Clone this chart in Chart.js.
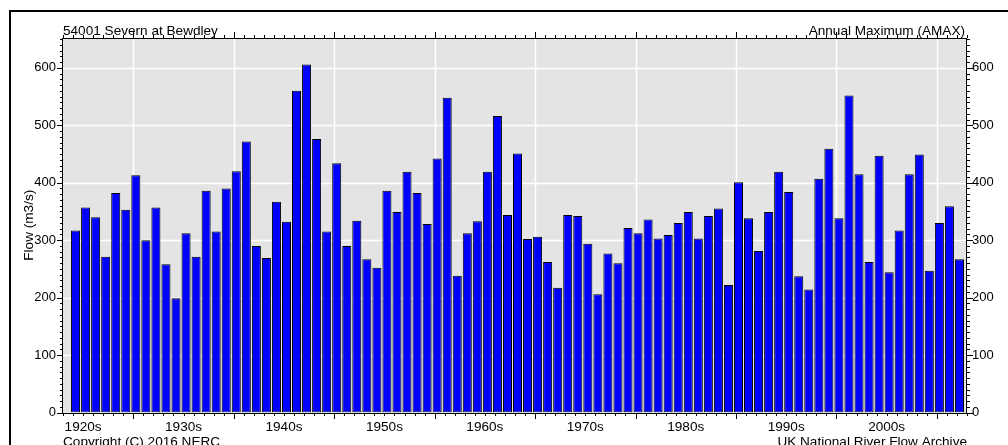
<!DOCTYPE html>
<html><head><meta charset="utf-8">
<script src="https://cdn.jsdelivr.net/npm/chart.js@4/dist/chart.umd.min.js"></script>
<style>html,body{margin:0;padding:0;background:#fff;overflow:hidden}canvas{display:block}</style>
</head><body>
<canvas id="c" width="1008" height="445"></canvas>
<script>
// ---- text ----
const stationTitle = '54001 Severn at Bewdley';
const seriesTitle = 'Annual Maximum (AMAX)';
const footerLeft = 'Copyright (C) 2016 NERC';
const footerRight = 'UK National River Flow Archive';
const yAxisTitle = 'Flow (m3/s)';

// ---- data: annual maximum flow (m3/s) per water year (Oct-Sep), first water year 1923 ----
const firstWaterYear = 1923;
const amaxFlow = [
  317, 357, 340, 271, 382, 353, 413, 300, 357, 258, 199, 312, 271, 386, 315, 390, 420, 472, 290, 269, 367, 332,
  560, 606, 476, 315, 434, 290, 334, 267, 252, 386, 349, 419, 382, 328, 442, 548, 238, 312, 333, 419, 516, 344,
  451, 302, 306, 262, 217, 344, 342, 294, 206, 277, 260, 321, 312, 336, 303, 309, 330, 349, 303, 342, 355, 222,
  401, 338, 281, 349, 419, 384, 237, 214, 407, 459, 338, 552, 415, 262, 447, 244, 317, 415, 449, 247, 330, 359, 267
];

// ---- axes ----
const decadeLabels = ['1920s','1930s','1940s','1950s','1960s','1970s','1980s','1990s','2000s'];
const decadeStarts = [1920, 1930, 1940, 1950, 1960, 1970, 1980, 1990, 2000];
const gridDecades = [1930, 1940, 1950, 1960, 1970, 1980, 1990, 2000, 2010];
const yTickValues = [0, 100, 200, 300, 400, 500, 600];
const xMin = 1923, xMax = 2013;
const yMin = 0, yMax = 652;
const yMinorStep = 10;

// water year starts in October (0.75 of the year) and lasts one year -> centre at +1.25
const points = amaxFlow.map((v, i) => ({ x: firstWaterYear + i + 1.25, y: v }));

const FONT = '"Liberation Sans", Arial, Helvetica, sans-serif';
Chart.defaults.font.family = FONT;
Chart.defaults.font.size = 13;
Chart.defaults.color = '#000';

const decorPlugin = {
  id: 'decor',
  beforeDatasetsDraw(chart) {
    const { ctx, chartArea: a, scales } = chart;
    const x = scales.x, y = scales.y;
    ctx.save();
    ctx.fillStyle = '#e4e4e4';
    ctx.fillRect(a.left, a.top, a.right - a.left, a.bottom - a.top);
    ctx.strokeStyle = '#ffffff';
    ctx.lineWidth = 1.5;
    ctx.beginPath();
    gridDecades.forEach(d => {
      const px = Math.round(x.getPixelForValue(d)) + 0.5;
      if (px > a.left && px < a.right) { ctx.moveTo(px, a.top); ctx.lineTo(px, a.bottom); }
    });
    yTickValues.forEach(v => {
      if (v === 0) return;
      const py = Math.round(y.getPixelForValue(v)) + 0.5;
      ctx.moveTo(a.left, py); ctx.lineTo(a.right, py);
    });
    ctx.stroke();
    ctx.restore();
  },
  afterDraw(chart) {
    const { ctx, chartArea: a, scales } = chart;
    const x = scales.x, y = scales.y;
    ctx.save();
    // plot frame
    ctx.strokeStyle = '#000';
    ctx.lineWidth = 1;
    ctx.strokeRect(Math.round(a.left) - 0.5, Math.round(a.top) + 0.5, Math.round(a.right - a.left), Math.round(a.bottom - a.top));
    // tick marks
    ctx.beginPath();
    for (let yr = xMin; yr <= xMax; yr++) {
      const px = Math.round(x.getPixelForValue(yr)) + 0.5;
      const len = yr % 10 === 0 ? 6 : 3;
      ctx.moveTo(px, Math.round(a.bottom)); ctx.lineTo(px, Math.round(a.bottom) + len);
      ctx.moveTo(px, Math.round(a.top)); ctx.lineTo(px, Math.round(a.top) - len);
    }
    for (let v = yMin; v <= yMax; v += yMinorStep) {
      const py = Math.round(y.getPixelForValue(v)) + 0.5;
      const len = v % 100 === 0 ? 6 : 3;
      ctx.moveTo(Math.round(a.left), py); ctx.lineTo(Math.round(a.left) - len, py);
      ctx.moveTo(Math.round(a.right), py); ctx.lineTo(Math.round(a.right) + len, py);
    }
    ctx.stroke();
    // texts
    ctx.fillStyle = '#000';
    ctx.font = '13.6px ' + FONT;
    ctx.textBaseline = 'alphabetic';
    ctx.textAlign = 'left';
    ctx.fillText(stationTitle, a.left, 35);
    ctx.fillText(footerLeft, a.left, 446);
    ctx.textAlign = 'right';
    ctx.fillText(seriesTitle, a.right - 2, 35);
    ctx.fillText(footerRight, a.right, 446);
    // outer frame
    ctx.lineWidth = 2;
    ctx.strokeRect(10, 11, 1200, 1000);
    ctx.restore();
  }
};

const yScaleBase = (pos, width, pad) => ({
  type: 'linear', position: pos, min: yMin, max: yMax,
  afterBuildTicks: s => { s.ticks = yTickValues.map(v => ({ value: v })); },
  afterFit: s => { s.width = width; },
  ticks: { padding: pad, color: '#000', font: { size: 13 } },
  grid: { display: false, drawTicks: false },
  border: { display: false }
});

const yLeft = yScaleBase('left', 63, 7);
yLeft.title = { display: true, text: yAxisTitle, color: '#000', font: { size: 13.6 }, padding: { top: 21, bottom: 0 } };
const yRight = yScaleBase('right', 41, 5);

new Chart(document.getElementById('c').getContext('2d'), {
  type: 'bar',
  data: {
    datasets: [{
      data: points,
      backgroundColor: '#0000ff',
      borderColor: '#000000',
      borderWidth: 1,
      borderSkipped: false,
      barPercentage: 0.9,
      categoryPercentage: 1.0
    }]
  },
  options: {
    responsive: false,
    animation: false,
    devicePixelRatio: 1,
    layout: { padding: { top: 38, left: 0, right: 0, bottom: 0 } },
    plugins: { legend: { display: false }, tooltip: { enabled: false }, title: { display: false } },
    scales: {
      x: {
        type: 'linear', position: 'bottom', min: xMin, max: xMax, offset: false,
        afterBuildTicks: s => { s.ticks = decadeStarts.map(d => ({ value: d + 5 })); },
        afterFit: s => { s.height = 32.5; },
        ticks: { autoSkip: false, maxRotation: 0, padding: 7, color: '#000', font: { size: 13.6 },
                 callback: (v, i) => decadeLabels[i] },
        grid: { display: false, drawTicks: false },
        border: { display: false }
      },
      y: yLeft,
      y2: yRight
    }
  },
  plugins: [decorPlugin]
});
</script>
</body></html>
